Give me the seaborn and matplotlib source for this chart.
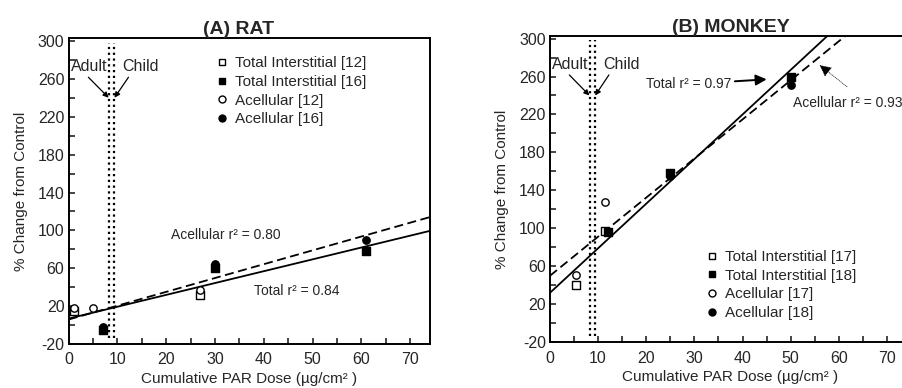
import numpy as np
import pandas as pd
import matplotlib
matplotlib.use('Agg')
import matplotlib.pyplot as plt
import seaborn as sns
from matplotlib.lines import Line2D
from matplotlib.ticker import MultipleLocator

# ---- data ----
# (A) RAT
rat_series = ['Total Interstitial [12]', 'Total Interstitial [16]', 'Acellular [12]', 'Acellular [16]']
rat_x = {
    'Total Interstitial [12]': [1, 27],
    'Total Interstitial [16]': [7, 30, 61],
    'Acellular [12]': [1, 5, 27],
    'Acellular [16]': [7, 30, 61],
}
rat_y = {
    'Total Interstitial [12]': [15, 32],
    'Total Interstitial [16]': [-5, 60, 78],
    'Acellular [12]': [18, 18, 37],
    'Acellular [16]': [-2, 65, 90],
}
rat_total_fit = (7.0, 1.25)       # intercept, slope
rat_acell_fit = (6.0, 1.46)

# (B) MONKEY
monkey_series = ['Total Interstitial [17]', 'Total Interstitial [18]', 'Acellular [17]', 'Acellular [18]']
monkey_x = {
    'Total Interstitial [17]': [5.5, 11.5],
    'Total Interstitial [18]': [12, 25, 50],
    'Acellular [17]': [5.5, 11.5],
    'Acellular [18]': [25, 50],
}
monkey_y = {
    'Total Interstitial [17]': [40, 97],
    'Total Interstitial [18]': [96, 158, 260],
    'Acellular [17]': [51, 128],
    'Acellular [18]': [155, 251],
}
monkey_total_fit = (32.0, 4.7)
monkey_acell_fit = (50.0, 4.12)

adult_child_x = 8.8

# marker styles per series position: open square, filled square, open circle, filled circle
styles = [('s', 'white'), ('s', 'black'), ('o', 'white'), ('o', 'black')]


def to_frame(series, xs, ys):
    rows = []
    for s in series:
        for x, y in zip(xs[s], ys[s]):
            rows.append({'series': s, 'x': x, 'y': y})
    return pd.DataFrame(rows)


def draw_panel(ax, series, xs, ys, total_fit, acell_fit, xlim):
    df = to_frame(series, xs, ys)
    for s, (m, fc) in zip(series, styles):
        sub = df[df['series'] == s]
        sns.scatterplot(data=sub, x='x', y='y', ax=ax, marker=m, s=28,
                        facecolor=fc, edgecolor='black', linewidth=1.0, zorder=4)
    xx = np.array([0, xlim[1]])
    fits = pd.DataFrame({'x': np.r_[xx, xx],
                         'y': np.r_[total_fit[0] + total_fit[1] * xx,
                                    acell_fit[0] + acell_fit[1] * xx],
                         'fit': ['total'] * 2 + ['acell'] * 2})
    sns.lineplot(data=fits[fits.fit == 'total'], x='x', y='y', ax=ax,
                 color='black', lw=1.3, zorder=3)
    sns.lineplot(data=fits[fits.fit == 'acell'], x='x', y='y', ax=ax,
                 color='black', lw=1.3, ls=(0, (5, 2.5)), zorder=3)
    # adult / child boundary (double dotted)
    for dx in (-0.5, 0.5):
        ax.axvline(adult_child_x + dx, ymin=0.02, ymax=0.985, color='black',
                   lw=1.6, ls=(0, (1, 1.6)), zorder=2)
    ax.annotate('Adult', xy=(adult_child_x - 0.6, 240), xytext=(adult_child_x - 4.6, 273),
                ha='center', va='center', fontsize=11.5,
                arrowprops=dict(arrowstyle='-|>', color='black', lw=0.9,
                                mutation_scale=8, shrinkA=0, shrinkB=0,
                                relpos=(0.35, 0.1)))
    ax.annotate('Child', xy=(adult_child_x + 0.6, 240), xytext=(adult_child_x + 6.0, 273),
                ha='center', va='center', fontsize=11.5,
                arrowprops=dict(arrowstyle='-|>', color='black', lw=0.9,
                                mutation_scale=8, shrinkA=0, shrinkB=0,
                                relpos=(0.25, 0.1)))

    ax.set_xlim(*xlim)
    ax.set_ylim(-20, 303)
    ax.xaxis.set_major_locator(MultipleLocator(10))
    ax.xaxis.set_minor_locator(MultipleLocator(5))
    ax.set_yticks(np.arange(-20, 301, 40))
    ax.set_yticks(np.arange(0, 301, 40), minor=True)
    ax.tick_params(which='both', direction='in', length=4, width=1.2, labelsize=11.5)
    ax.tick_params(axis='x', pad=6)
    ax.tick_params(axis='y', pad=3)
    for sp in ax.spines.values():
        sp.set_linewidth(1.4)
        sp.set_color('black')
    ax.set_xlabel('Cumulative PAR Dose (\u00b5g/cm\u00b2 )', fontsize=11, labelpad=3)
    ax.set_ylabel('% Change from Control', fontsize=11, labelpad=7)

    handles = [Line2D([], [], ls='none', marker=m, markersize=5, markerfacecolor=fc,
                      markeredgecolor='black', markeredgewidth=1.0)
               for m, fc in styles]
    return handles


sns.set_style('ticks')
plt.rcParams['font.family'] = ['Liberation Sans', 'DejaVu Sans']
plt.rcParams['axes.unicode_minus'] = False

fig = plt.figure(figsize=(9.03, 3.88), dpi=100)
ax1 = fig.add_axes([0.076, 0.113, 0.400, 0.789])
ax2 = fig.add_axes([0.609, 0.118, 0.400, 0.790])

leg_kw = dict(frameon=False, fontsize=11, handlelength=0.7, handletextpad=0.5,
              labelspacing=0.3, borderaxespad=0, borderpad=0)

h1 = draw_panel(ax1, rat_series, rat_x, rat_y, rat_total_fit, rat_acell_fit, (0, 74))
ax1.set_title('(A) RAT', fontsize=14, fontweight='bold', pad=3, x=0.47)
ax1.legend(h1, rat_series, loc='upper left', bbox_to_anchor=(0.41, 0.94), **leg_kw)
ax1.text(21, 95, 'Acellular r\u00b2 = 0.80', fontsize=10, va='center')
ax1.text(38, 36, 'Total r\u00b2 = 0.84', fontsize=10, va='center')

h2 = draw_panel(ax2, monkey_series, monkey_x, monkey_y, monkey_total_fit, monkey_acell_fit, (0, 75))
ax2.set_title('(B) MONKEY', fontsize=14, fontweight='bold', pad=3, x=0.5)
ax2.legend(h2, monkey_series, loc='upper left', bbox_to_anchor=(0.435, 0.30), **leg_kw)
ax2.annotate('Total r\u00b2 = 0.97', xy=(45, 257), xytext=(20, 252),
             ha='left', va='center', fontsize=10,
             arrowprops=dict(arrowstyle='-|>', color='black', lw=1.4,
                             mutation_scale=16, shrinkA=0, shrinkB=0))
ax2.annotate('Acellular r\u00b2 = 0.93', xy=(56, 272), xytext=(50.5, 232),
             ha='left', va='center', fontsize=10,
             arrowprops=dict(arrowstyle='-|>', color='black', lw=0.5, ls=':',
                             mutation_scale=18, shrinkA=7, shrinkB=0,
                             relpos=(0.6, 1.0)))

fig.savefig('out.png', dpi=100)
